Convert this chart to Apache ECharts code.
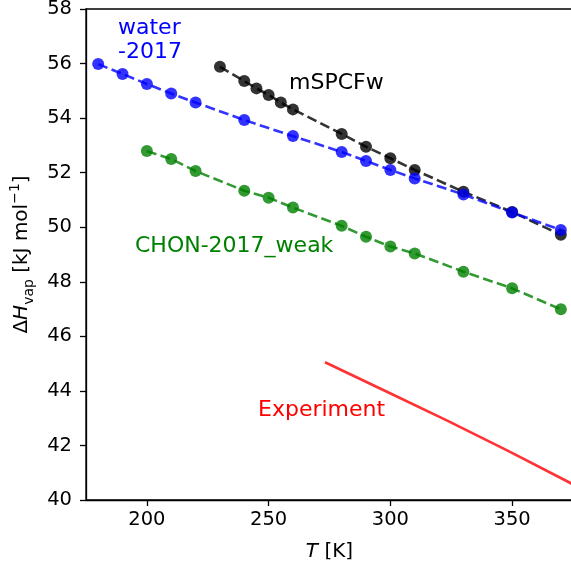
<!DOCTYPE html>
<html><head><meta charset="utf-8">
<script src="https://cdn.jsdelivr.net/npm/echarts@6/dist/echarts.min.js"></script>
<style>html,body{margin:0;padding:0;background:#fff}#c{width:571px;height:568px}</style>
</head><body><div id="c"></div>
<script>
// Data
const waterT = [180,190,200,210,220,240,260,280,290,300,310,330,350,370];
const waterH = [55.98,55.62,55.25,54.90,54.57,53.93,53.34,52.76,52.43,52.10,51.79,51.20,50.54,49.90];
const mspcT  = [230,240,245,250,255,260,280,290,300,310,330,350,370];
const mspcH  = [55.88,55.36,55.09,54.85,54.57,54.32,53.42,52.95,52.53,52.10,51.30,50.56,49.72];
const chonT  = [200,210,220,240,250,260,280,290,300,310,330,350,370];
const chonH  = [52.79,52.50,52.06,51.34,51.08,50.72,50.05,49.65,49.29,49.04,48.37,47.76,46.99];
const expT   = [273.15,298.15,323.15,348.15,373.15,383.15];
const expH   = [45.05,43.99,42.92,41.81,40.66,40.17];
const xTicks = [200,250,300,350];
const xMin = 175, xMax = 375, yMin = 40, yMax = 58, yStep = 2;

const FONT = 'DejaVu Sans';
const pairs = (xs, ys) => xs.map((x, i) => [x, ys[i]]);

const chart = echarts.init(document.getElementById('c'), null, {renderer: 'canvas'});

function dashed(name, xs, ys, color) {
  return {
    name, type: 'line', data: pairs(xs, ys),
    symbol: 'circle', symbolSize: 12,
    itemStyle: {color: color, opacity: 0.8},
    lineStyle: {color: color, width: 2.6, type: [10, 4.4], opacity: 0.8},
    emphasis: {disabled: true}, animation: false, z: 2
  };
}

const option = {
  animation: false,
  backgroundColor: '#fff',
  grid: {left: 86, top: 9, right: -2, bottom: 68, containLabel: false, outerBoundsMode: 'none',
         show: true, borderColor: '#000', borderWidth: 1.3, backgroundColor: 'transparent'},
  xAxis: {
    type: 'value', min: xMin, max: xMax,
    name: '{i|T} [K]', nameLocation: 'middle', nameGap: 42,
    nameTextStyle: {fontFamily: FONT, fontSize: 20, color: '#000',
      rich: {i: {fontFamily: FONT, fontSize: 20, fontStyle: 'italic', color: '#000'}}},
    axisLine: {lineStyle: {color: '#000', width: 1.3}},
    axisTick: {show: true, inside: false, length: 6, lineStyle: {color: '#000', width: 1.3}, customValues: xTicks},
    axisLabel: {fontFamily: FONT, fontSize: 19.5, color: '#000', margin: 10, customValues: xTicks},
    splitLine: {show: false}
  },
  yAxis: {
    type: 'value', min: yMin, max: yMax, interval: yStep,
    name: 'Δ{i|H}{s|vap} [kJ mol{p|−1}]', nameLocation: 'middle', nameGap: 50, nameRotate: 90,
    nameTextStyle: {fontFamily: FONT, fontSize: 20, color: '#000', lineHeight: 28, verticalAlign: 'middle',
      rich: {
        i: {fontFamily: FONT, fontSize: 20, fontStyle: 'italic', color: '#000', lineHeight: 28},
        s: {fontFamily: FONT, fontSize: 14, color: '#000', lineHeight: 14, verticalAlign: 'bottom'},
        p: {fontFamily: FONT, fontSize: 14, color: '#000', lineHeight: 14, verticalAlign: 'top'}
      }},
    axisLine: {show: true, lineStyle: {color: '#000', width: 1.3}},
    axisTick: {show: true, inside: false, length: 6, lineStyle: {color: '#000', width: 1.3}},
    axisLabel: {fontFamily: FONT, fontSize: 19.5, color: '#000', margin: 14},
    splitLine: {show: false}
  },
  series: [
    dashed('mSPCFw', mspcT, mspcH, '#000000'),
    dashed('CHON-2017_weak', chonT, chonH, '#008000'),
    dashed('water-2017', waterT, waterH, '#0000ff'),
    {
      name: 'Experiment', type: 'line', data: pairs(expT, expH), showSymbol: false, symbol: 'none',
      smooth: false, clip: true,
      lineStyle: {color: '#ff0000', width: 2.7, type: 'solid', opacity: 0.8},
      emphasis: {disabled: true}, animation: false, z: 3
    }
  ],
  graphic: [
    {type: 'text', x: 118, y: 28.5, style: {text: 'water', fill: '#0000ff', font: '22px "DejaVu Sans"', align: 'left', verticalAlign: 'middle'}},
    {type: 'text', x: 118, y: 52.5, style: {text: '-2017', fill: '#0000ff', font: '22px "DejaVu Sans"', align: 'left', verticalAlign: 'middle'}},
    {type: 'text', x: 289, y: 83, style: {text: 'mSPCFw', fill: '#000000', font: '22px "DejaVu Sans"', align: 'left', verticalAlign: 'middle'}},
    {type: 'text', x: 135, y: 246.5, style: {text: 'CHON-2017_weak', fill: '#008000', font: '22px "DejaVu Sans"', align: 'left', verticalAlign: 'middle'}},
    {type: 'text', x: 258, y: 410, style: {text: 'Experiment', fill: '#ff0000', font: '22px "DejaVu Sans"', align: 'left', verticalAlign: 'middle'}}
  ]
};
chart.setOption(option);
</script>
</body></html>
